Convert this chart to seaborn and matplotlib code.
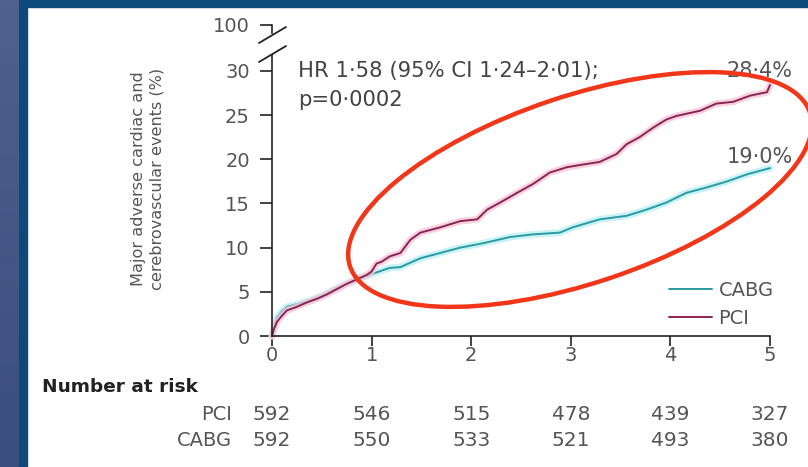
import numpy as np
import pandas as pd
import matplotlib
matplotlib.use("Agg")
import matplotlib.pyplot as plt
import matplotlib.patheffects as pe
from matplotlib.patches import Ellipse, Rectangle
from matplotlib.lines import Line2D
from matplotlib.colors import LinearSegmentedColormap
import seaborn as sns

# ---------------- data ----------------
years_pci = [0, 0.02, 0.05, 0.10, 0.15, 0.25, 0.35, 0.45, 0.55, 0.65, 0.75, 0.85,
             0.95, 1.00, 1.05, 1.10, 1.18, 1.29, 1.39, 1.49, 1.69, 1.89, 2.06, 2.16,
             2.29, 2.46, 2.62, 2.79, 2.96, 3.12, 3.29, 3.46, 3.56, 3.69, 3.83, 3.96,
             4.06, 4.30, 4.46, 4.63, 4.80, 4.97, 5.00]
mace_pci = [0, 0.8, 1.6, 2.3, 2.9, 3.3, 3.8, 4.2, 4.7, 5.3, 5.9, 6.4,
            6.9, 7.3, 8.2, 8.4, 9.0, 9.4, 10.9, 11.7, 12.3, 13.0, 13.2, 14.3,
            15.1, 16.2, 17.2, 18.5, 19.1, 19.4, 19.7, 20.6, 21.7, 22.5, 23.6, 24.5,
            24.9, 25.5, 26.3, 26.5, 27.2, 27.6, 28.4]

years_cabg = [0, 0.02, 0.05, 0.10, 0.15, 0.25, 0.35, 0.45, 0.55, 0.65, 0.75, 0.85,
              0.95, 1.05, 1.18, 1.29, 1.49, 1.69, 1.89, 2.12, 2.39, 2.62, 2.89, 3.02,
              3.29, 3.56, 3.76, 3.96, 4.16, 4.36, 4.57, 4.77, 5.00]
mace_cabg = [0, 1.0, 2.1, 2.8, 3.3, 3.6, 3.9, 4.3, 4.8, 5.4, 5.9, 6.4,
             6.8, 7.2, 7.7, 7.8, 8.8, 9.4, 10.0, 10.5, 11.2, 11.5, 11.7, 12.3,
             13.2, 13.6, 14.3, 15.1, 16.2, 16.8, 17.5, 18.3, 19.0]

groups = ["CABG", "PCI"]
end_labels = {"PCI": "28·4%", "CABG": "19·0%"}
end_values = {"PCI": 28.4, "CABG": 19.0}

risk_times = [0, 1, 2, 3, 4, 5]
risk_pci = [592, 546, 515, 478, 439, 327]
risk_cabg = [592, 550, 533, 521, 493, 380]

x_ticks = [0, 1, 2, 3, 4, 5]
y_ticks = [0, 5, 10, 15, 20, 25, 30]
top_tick = 100

hr_line1 = "HR 1·58 (95% CI 1·24–2·01);"
hr_line2 = "p=0·0002"
y_label = "Major adverse cardiac and\ncerebrovascular events (%)"

# ---------------- styling ----------------
sns.set_theme(style="white")
plt.rcParams["font.family"] = ["DejaVu Sans"]

colors = {"CABG": "#2a9ba0", "PCI": "#8a2552"}
halos = {"CABG": "#bff0f3", "PCI": "#f6c9da"}
tick_col = "#555555"
axis_col = "#222222"

W, H = 808, 467
fig = plt.figure(figsize=(W / 100, H / 100), dpi=100, facecolor="white")


def fx(px):
    return px / W


def fy(py):
    return 1 - py / H


# frame decoration (left gradient strip and dark blue border)
grad_ax = fig.add_axes([0, 0, fx(19), 1])
grad = np.linspace(0, 1, 256).reshape(-1, 1)
cm = LinearSegmentedColormap.from_list("strip", ["#50608f", "#3a4e80"])
grad_ax.imshow(grad, aspect="auto", cmap=cm)
grad_ax.set_axis_off()
fig.add_artist(Rectangle((fx(19), 0), fx(8), 1, transform=fig.transFigure,
                         color="#0b4a7a", zorder=0))
fig.add_artist(Rectangle((fx(19), fy(7)), 1, 7 / H, transform=fig.transFigure,
                         color="#0b4a7a", zorder=0))

# ---------------- main axes ----------------
ax = fig.add_axes([fx(272), fy(336), 498 / W, 281 / H])
df = pd.concat([
    pd.DataFrame({"years": years_cabg, "mace": mace_cabg, "group": "CABG"}),
    pd.DataFrame({"years": years_pci, "mace": mace_pci, "group": "PCI"}),
])
sns.lineplot(data=df, x="years", y="mace", hue="group", hue_order=groups,
             palette=colors, estimator=None, sort=False, linewidth=1.4,
             legend=False, ax=ax)
for line, g in zip(ax.lines, groups):
    line.set_path_effects([pe.Stroke(linewidth=5, foreground=halos[g], alpha=0.8),
                           pe.Normal()])
    line.set_clip_on(False)

ax.set_xlim(0, 5)
ax.set_ylim(0, 31.8)
ax.set_xticks(x_ticks)
ax.set_yticks(y_ticks)
ax.set_xlabel("")
ax.set_ylabel("")
for s in ["top", "right"]:
    ax.spines[s].set_visible(False)
for s in ["left", "bottom"]:
    ax.spines[s].set_color(axis_col)
    ax.spines[s].set_linewidth(1.2)
ax.tick_params(axis="y", direction="out", length=9, width=1.2, color=axis_col,
               labelsize=14, labelcolor=tick_col, pad=7, left=True)
ax.tick_params(axis="x", direction="out", length=7, width=1.2, color=axis_col,
               labelsize=14, labelcolor=tick_col, pad=0, bottom=True)
ax.set_facecolor("none")

# top axis piece for the 100 tick
ax_top = fig.add_axes([fx(272), fy(33), 498 / W, 8 / H])
ax_top.set_ylim(99.0, 100.0)
ax_top.set_yticks([top_tick])
ax_top.set_xticks([])
for s in ["top", "right", "bottom"]:
    ax_top.spines[s].set_visible(False)
ax_top.spines["left"].set_color(axis_col)
ax_top.spines["left"].set_linewidth(1.2)
ax_top.tick_params(axis="y", direction="out", length=9, width=1.2, color=axis_col,
                   labelsize=14, labelcolor=tick_col, pad=7, left=True)
ax_top.set_facecolor("none")

# axis break marks
for (x0, y0, x1, y1) in [(259, 43, 286, 27), (259, 62, 286, 46)]:
    fig.add_artist(Line2D([fx(x0), fx(x1)], [fy(y0), fy(y1)], transform=fig.transFigure,
                          color=axis_col, lw=1.3))

# y label
fig.text(fx(148), fy(179), y_label, rotation=90, ha="center", va="center",
         fontsize=11.6, color=tick_col, linespacing=1.25)

# HR annotation
fig.text(fx(298), fy(71), hr_line1, ha="left", va="center",
         fontsize=15.2, color="#444444")
fig.text(fx(298), fy(100), hr_line2, ha="left", va="center",
         fontsize=15.2, color="#444444")

# end labels
for g, off in [("PCI", 1.6), ("CABG", 1.3)]:
    ax.text(5.23, end_values[g] + off, end_labels[g], ha="right", va="center",
            fontsize=15, color=tick_col, clip_on=False)

# legend
handles = [Line2D([], [], color=colors[g], lw=1.4) for g in groups]
leg = ax.legend(handles, groups, loc="lower right", bbox_to_anchor=(1.027, -0.005),
                frameon=False, fontsize=14, handlelength=2.2, handletextpad=0.35,
                labelspacing=0.45, borderpad=0)
for t in leg.get_texts():
    t.set_color(tick_col)

# number at risk table
fig.text(fx(42), fy(387), "Number at risk", ha="left", va="center",
         fontsize=13.3, fontweight="bold", color="#222222")
xt = matplotlib.transforms.blended_transform_factory(ax.transData, fig.transFigure)
for row, vals, ypx in [("PCI", risk_pci, 414), ("CABG", risk_cabg, 441)]:
    fig.text(fx(232), fy(ypx), row, ha="right", va="center", fontsize=14,
             color="#555555")
    for t, v in zip(risk_times, vals):
        ax.text(t, fy(ypx), str(v), transform=xt, ha="center", va="center",
                fontsize=14.5, color="#555555", clip_on=False)

# red annotation ellipse
ell = Ellipse((5.80, (H - 189.5) / 100), width=4.85, height=1.87, angle=18.5,
              transform=fig.dpi_scale_trans, fill=False, edgecolor="#f2361a",
              linewidth=3.2, zorder=20, clip_on=False)
fig.add_artist(ell)

fig.savefig("out.png", dpi=100, facecolor="white")
